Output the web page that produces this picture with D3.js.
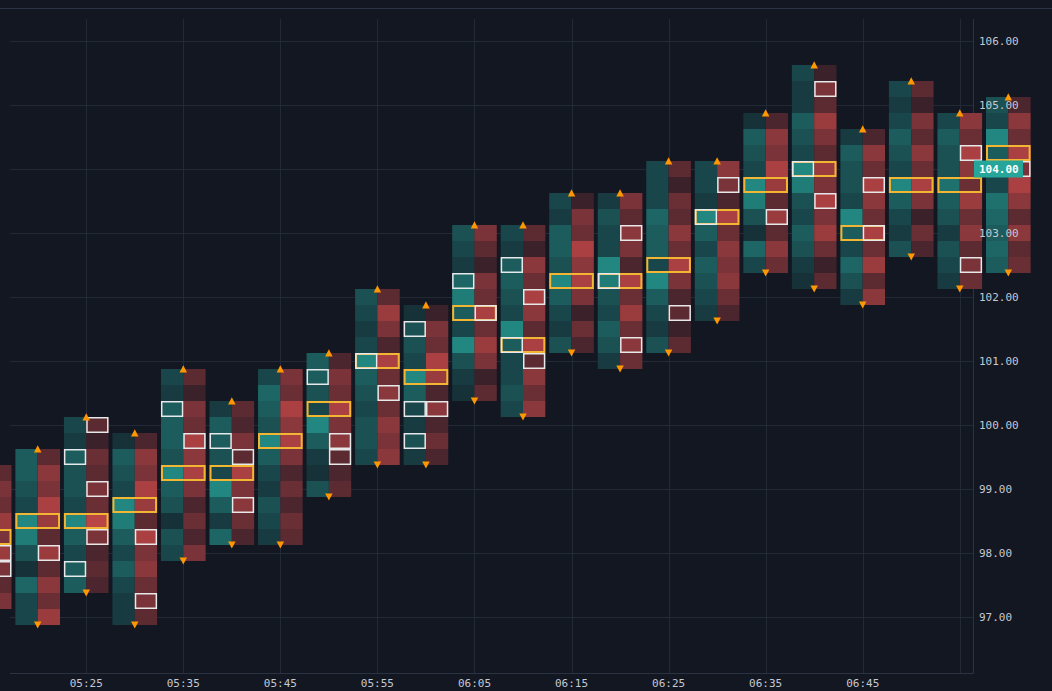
<!DOCTYPE html>
<html><head><meta charset="utf-8">
<script src="https://cdn.jsdelivr.net/npm/d3@7"></script>
<style>html,body{margin:0;padding:0;background:#131722;}svg{display:block;}</style>
</head><body>
<svg id="chart" width="1052" height="691"></svg>
<script>
// ---- data ----
const times = ["05:15","05:20","05:25","05:30","05:35","05:40","05:45","05:50","05:55","06:00","06:05",
               "06:10","06:15","06:20","06:25","06:30","06:35","06:40","06:45","06:50","06:55","07:00"];
const highs = [99.25,99.5,100.0,99.75,100.75,100.25,100.75,101.0,102.0,101.75,103.0,
               103.0,103.5,103.5,104.0,104.0,104.75,105.5,104.5,105.25,104.75,105.0];
const lows  = [97.25,97.0,97.5,97.0,98.0,98.25,98.25,99.0,99.5,99.5,100.5,
               100.25,101.25,101.0,101.25,101.75,102.5,102.25,102.0,102.75,102.25,102.5];
const pocs  = [98.25,98.5,98.5,98.75,99.25,99.25,99.75,100.25,101.0,100.75,101.75,
               101.25,102.25,102.25,102.5,103.25,103.75,104.0,103.0,103.75,103.75,104.25];
// bid (left) volumes, top level to bottom level
const bidVol = [
  [20,30,25,20,50,30,25,15,30],
  [30,30,25,20,50,45,25,10,35,20,20],
  [20,15,30,25,25,20,50,30,20,30,30],
  [10,30,25,20,50,45,30,20,30,20,15,15],
  [20,15,30,30,30,25,50,30,25,10,25,20],
  [15,30,30,25,20,50,30,15,35],
  [20,35,30,25,50,30,20,15,25,20,15],
  [30,30,25,20,50,30,15,10,25],
  [25,20,15,20,50,30,25,20,25,25,20],
  [10,25,25,20,50,30,20,15,25,15],
  [25,20,15,35,45,30,20,50,25,15,10],
  [20,15,30,30,25,20,50,30,20,20,25,20],
  [20,15,30,30,25,50,30,20,15,25],
  [15,25,20,20,50,45,25,20,30,25,15],
  [20,20,20,35,30,30,20,50,30,20,15,25],
  [20,20,15,50,30,20,30,25,20,15],
  [10,30,25,20,50,45,25,10,35,20],
  [20,15,15,30,25,20,50,45,25,20,30,25,15,10],
  [15,30,25,25,20,50,30,20,35,25,15],
  [20,15,20,30,25,20,50,30,20,15,25],
  [20,30,25,25,40,30,25,15,25,20,15],
  [25,20,50,30,25,20,40,35,30,35,30]
];
// ask (right) volumes, top level to bottom level
const askVol = [
  [20,30,25,40,30,40,30,20,30],
  [20,35,30,45,40,20,40,20,35,25,40],
  [20,10,25,20,30,25,50,30,15,20,15],
  [15,35,30,45,40,20,45,30,35,25,30,20],
  [20,10,30,25,45,35,45,30,15,25,15,30],
  [20,15,30,20,45,30,35,25,15],
  [30,25,45,35,45,30,15,25,15,25,20],
  [15,30,25,45,30,35,20,15,20],
  [20,40,30,15,45,25,35,25,35,30,35],
  [10,30,25,45,40,15,35,15,25,15],
  [30,20,10,30,25,45,25,40,30,10,20],
  [20,10,35,25,45,35,20,45,20,35,25,35],
  [10,30,25,45,35,45,30,10,25,15],
  [30,20,35,30,15,45,25,40,25,35,25],
  [20,10,25,20,35,25,45,30,15,20,10,20],
  [35,30,15,45,25,35,30,35,25,15],
  [15,35,30,45,40,20,40,20,35,25],
  [10,30,20,40,30,20,40,30,45,30,40,25,10,20],
  [15,35,25,45,35,25,45,25,40,20,35],
  [20,10,30,20,35,25,45,30,10,25,15],
  [35,25,45,35,25,40,25,35,20,30,25],
  [15,35,25,45,30,45,35,20,35,20,25]
];
// price levels with an outlined (imbalance) cell
const bidImb = [[],[],[99.5,97.75],[],[100.25],[99.75],[],[100.75],[101.0],[101.5,100.25,99.75],[102.25],
                [102.5,101.25],[],[102.25],[],[103.25],[],[104.0],[],[],[],[]];
const askImb = [[98.0,97.75],[98.0],[100.0,99.0,98.25],[98.25,97.25],[99.75],[99.5,98.75],[],[99.75,99.5],[100.5],[100.25],[101.75],
                [102.0,101.0],[],[103.0,101.25],[101.75],[103.75],[103.25],[105.25,103.5],[103.75,103.0],[],[104.25,102.5],[104.0]];
const priceTicks = [97,98,99,100,101,102,103,104,105,106];
const timeTicks = ["05:25","05:35","05:45","05:55","06:05","06:15","06:25","06:35","06:45","06:55"];
const lastPrice = 104.00;
const tickSize = 0.25;

// ---- drawing ----
const svg = d3.select("#chart");
const BG = "#131722", TEAL = "#26a69a", RED = "#ef5350";
const parse = d3.timeParse("%H:%M");
const plot = {left: 10, right: 973, top: 19, bottom: 673};

const x = d3.scaleTime().domain([parse("05:20"), parse("07:00")]).range([37.7, 1008.3]);
const y = d3.scaleLinear().domain([97, 106]).range([617, 41]);
const step = x(parse("05:25")) - x(parse("05:20"));
const halfW = step * 0.46;
const cellH = y(97) - y(97 + tickSize);
const alphaBid = d3.scaleLinear().domain([10, 50]).range([0.18, 0.78]).clamp(true);
const alphaAsk = d3.scaleLinear().domain([10, 50]).range([0.18, 0.76]).clamp(true);
const bidColor = v => d3.interpolateRgb(BG, TEAL)(alphaBid(v));
const askColor = v => d3.interpolateRgb(BG, RED)(alphaAsk(v));
const fmt = d3.format(".2f");
const font = "'DejaVu Sans Mono', monospace";

svg.append("rect").attr("width", 1052).attr("height", 691).attr("fill", BG);
svg.append("line").attr("x1", 0).attr("x2", 1052).attr("y1", 8.5).attr("y2", 8.5)
   .attr("stroke", "#2a3444").attr("stroke-width", 1);

// grid
const grid = svg.append("g").attr("stroke", "#232a37").attr("stroke-width", 1);
grid.selectAll(".h").data(priceTicks).join("line")
  .attr("x1", plot.left).attr("x2", plot.right)
  .attr("y1", d => Math.round(y(d)) + 0.5).attr("y2", d => Math.round(y(d)) + 0.5);
grid.selectAll(".v").data(timeTicks).join("line")
  .attr("x1", d => Math.round(x(parse(d))) + 0.5).attr("x2", d => Math.round(x(parse(d))) + 0.5)
  .attr("y1", plot.top).attr("y2", plot.bottom);

// axis frame lines
svg.append("line").attr("x1", plot.left).attr("x2", plot.right + 0.5)
  .attr("y1", plot.bottom + 0.5).attr("y2", plot.bottom + 0.5).attr("stroke", "#2b3242");
svg.append("line").attr("x1", plot.right + 0.5).attr("x2", plot.right + 0.5)
  .attr("y1", plot.top).attr("y2", plot.bottom + 0.5).attr("stroke", "#2b3242");

// footprint cells
const cols = svg.append("g");
times.forEach((t, i) => {
  const cx = x(parse(t));
  const g = cols.append("g");
  const levels = bidVol[i].map((v, j) => ({p: highs[i] - j * tickSize, bid: v, ask: askVol[i][j]}));
  g.selectAll(".b").data(levels).join("rect")
    .attr("x", cx - halfW).attr("width", halfW)
    .attr("y", d => y(d.p + tickSize / 2)).attr("height", cellH)
    .attr("fill", d => bidColor(d.bid));
  g.selectAll(".a").data(levels).join("rect")
    .attr("x", cx).attr("width", halfW)
    .attr("y", d => y(d.p + tickSize / 2)).attr("height", cellH)
    .attr("fill", d => askColor(d.ask));
  // POC
  g.append("rect")
    .attr("x", cx - halfW + 1).attr("width", 2 * halfW - 2)
    .attr("y", y(pocs[i] + tickSize / 2) + 1).attr("height", cellH - 2)
    .attr("fill", "none").attr("stroke", "#f2b632").attr("stroke-width", 2);
  // imbalances
  g.selectAll(".bi").data(bidImb[i]).join("rect")
    .attr("x", cx - halfW + 0.75).attr("width", halfW - 1.5)
    .attr("y", d => y(d + tickSize / 2) + 0.75).attr("height", cellH - 1.5)
    .attr("fill", "none").attr("stroke", "#e6e8ea").attr("stroke-width", 1.5);
  g.selectAll(".ai").data(askImb[i]).join("rect")
    .attr("x", cx + 0.75).attr("width", halfW - 1.5)
    .attr("y", d => y(d + tickSize / 2) + 0.75).attr("height", cellH - 1.5)
    .attr("fill", "none").attr("stroke", "#e6e8ea").attr("stroke-width", 1.5);
  // high / low markers
  const yt = y(highs[i] + tickSize / 2), yb = y(lows[i] - tickSize / 2);
  g.append("path").attr("fill", "#ff9800")
    .attr("d", `M${cx - 3.75},${yt + 3.4}L${cx + 3.75},${yt + 3.4}L${cx},${yt - 3.8}Z`);
  g.append("path").attr("fill", "#ff9800")
    .attr("d", `M${cx - 3.75},${yb - 3.6}L${cx + 3.75},${yb - 3.6}L${cx},${yb + 3.6}Z`);
});

// price labels
svg.append("g").selectAll("text").data(priceTicks).join("text")
  .attr("x", plot.right + 6).attr("y", d => y(d)).attr("dy", "0.35em")
  .attr("font-family", font).attr("font-size", 11).attr("fill", "#c5c9d2")
  .text(d => fmt(d));

// time labels
svg.append("g").selectAll("text")
  .data(timeTicks.filter(d => x(parse(d)) + 17 < plot.right))
  .join("text")
  .attr("x", d => x(parse(d))).attr("y", 683).attr("dy", "0.35em")
  .attr("text-anchor", "middle")
  .attr("font-family", font).attr("font-size", 11).attr("fill", "#c5c9d2")
  .text(d => d);

// last price label
const lp = svg.append("g");
lp.append("rect").attr("x", plot.right + 1).attr("y", y(lastPrice) - 8.5)
  .attr("width", 49).attr("height", 17).attr("fill", TEAL);
lp.append("text").attr("x", plot.right + 6).attr("y", y(lastPrice)).attr("dy", "0.35em")
  .attr("font-family", font).attr("font-size", 11).attr("font-weight", "bold")
  .attr("fill", "#ffffff").text(fmt(lastPrice));
</script>
</body></html>
